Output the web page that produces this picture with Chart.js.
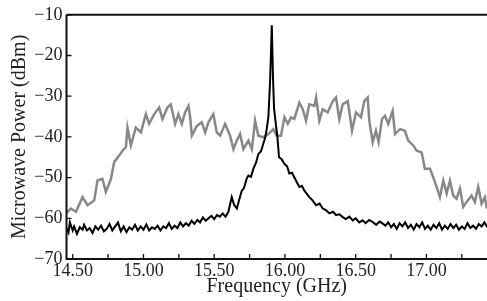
<!DOCTYPE html>
<html>
<head>
<meta charset="utf-8">
<script src="https://cdn.jsdelivr.net/npm/chart.js@4"></script>
<style>
  html, body { margin: 0; padding: 0; background: #fff; }
  #wrap { width: 487px; height: 301px; }
</style>
</head>
<body>
<div id="wrap"><canvas id="spectrum-chart"></canvas></div>
<script>
// broad (gray) spectrum
const grayFreq = [14.452, 14.487, 14.523, 14.569, 14.605, 14.652, 14.675, 14.710, 14.734, 14.770,
  14.793, 14.828, 14.852, 14.876, 14.887, 14.911, 14.946, 14.982, 15.017, 15.040,
  15.076, 15.111, 15.134, 15.169, 15.193, 15.224, 15.247, 15.271, 15.294, 15.318,
  15.330, 15.342, 15.377, 15.412, 15.436, 15.459, 15.494, 15.518, 15.542, 15.577,
  15.612, 15.636, 15.660, 15.683, 15.706, 15.742, 15.766, 15.789, 15.812, 15.847,
  15.883, 15.918, 15.942, 15.972, 15.996, 16.020, 16.043, 16.066, 16.102, 16.126,
  16.149, 16.172, 16.208, 16.220, 16.243, 16.267, 16.302, 16.338, 16.361, 16.384,
  16.408, 16.444, 16.474, 16.502, 16.537, 16.561, 16.585, 16.596, 16.620, 16.643,
  16.662, 16.686, 16.707, 16.730, 16.761, 16.778, 16.813, 16.848, 16.871, 16.907,
  16.931, 16.966, 16.989, 17.025, 17.048, 17.072, 17.095, 17.119, 17.143, 17.166,
  17.189, 17.213, 17.237, 17.260, 17.284, 17.319, 17.342, 17.366, 17.390, 17.413, 17.427];
const grayPower = [-58.8, -57.6, -58.4, -54.8, -56.8, -55.6, -50.7, -50.3, -53.5, -50.3,
  -46.2, -44.6, -43.4, -42.5, -37.7, -42.1, -37.7, -38.9, -34.4, -36.8,
  -34.4, -32.8, -35.6, -32.8, -32.0, -36.8, -34.4, -36.8, -34.0, -32.4,
  -35.2, -39.7, -37.3, -36.4, -38.9, -36.4, -34.4, -38.9, -39.7, -36.8,
  -39.7, -43.0, -40.9, -39.3, -43.0, -40.9, -43.0, -36.0, -39.7, -40.1,
  -39.3, -38.1, -39.7, -39.7, -35.2, -36.8, -35.2, -35.6, -31.6, -33.2,
  -36.0, -32.0, -32.4, -30.3, -36.0, -33.2, -34.0, -31.2, -30.3, -35.6,
  -32.0, -31.2, -38.5, -34.0, -35.2, -31.2, -30.3, -36.0, -41.3, -38.5,
  -41.3, -35.6, -34.8, -36.8, -33.6, -39.3, -38.1, -38.5, -40.9, -42.1,
  -43.4, -43.8, -47.8, -47.8, -49.9, -52.3, -54.8, -50.7, -53.9, -50.7,
  -54.4, -55.2, -52.7, -57.2, -56.0, -54.4, -56.0, -52.3, -56.4, -54.8, -57.6];

// narrow (black) peak
const blackFreq = [14.45, 14.47, 14.48, 14.50, 14.51, 14.53, 14.55, 14.57, 14.58, 14.60,
  14.62, 14.64, 14.66, 14.68, 14.70, 14.72, 14.74, 14.76, 14.78, 14.80,
  14.82, 14.84, 14.86, 14.88, 14.90, 14.92, 14.94, 14.96, 14.98, 15.00,
  15.02, 15.04, 15.06, 15.08, 15.10, 15.12, 15.14, 15.16, 15.18, 15.20,
  15.22, 15.24, 15.26, 15.28, 15.30, 15.32, 15.34, 15.36, 15.38, 15.40,
  15.42, 15.44, 15.46, 15.48, 15.50, 15.52, 15.54, 15.56, 15.58, 15.60,
  15.624, 15.64, 15.66, 15.68, 15.695, 15.71, 15.73, 15.742, 15.76, 15.777,
  15.795, 15.812, 15.83, 15.847, 15.86, 15.871, 15.883, 15.895, 15.907, 15.916,
  15.923, 15.936, 15.947, 15.958, 15.975, 15.996, 16.015, 16.031, 16.05, 16.066,
  16.085, 16.102, 16.12, 16.137, 16.155, 16.172, 16.195, 16.220, 16.245, 16.267,
  16.29, 16.314, 16.34, 16.361, 16.385, 16.408, 16.43, 16.455, 16.479, 16.50,
  16.525, 16.549, 16.57, 16.595, 16.620, 16.645, 16.67, 16.691, 16.71, 16.73,
  16.75, 16.77, 16.79, 16.81, 16.83, 16.85, 16.87, 16.89, 16.91, 16.93,
  16.95, 16.97, 16.99, 17.01, 17.03, 17.05, 17.07, 17.09, 17.11, 17.13,
  17.15, 17.17, 17.19, 17.21, 17.23, 17.25, 17.27, 17.29, 17.31, 17.33,
  17.35, 17.37, 17.39, 17.41, 17.43];
const blackPower = [-62.0, -63.5, -61.0, -63.0, -62.0, -63.8, -62.2, -62.8, -61.6, -63.0,
  -62.4, -63.6, -62.0, -62.8, -61.8, -63.2, -62.6, -61.4, -63.0, -62.0,
  -61.0, -63.2, -62.0, -63.4, -62.2, -62.8, -61.6, -63.0, -62.0, -62.8,
  -61.5, -63.0, -62.2, -62.6, -61.8, -63.0, -62.0, -62.4, -61.2, -62.6,
  -61.8, -62.4, -61.0, -62.0, -61.2, -61.8, -60.6, -61.4, -60.4, -61.0,
  -59.8, -60.6, -60.0, -59.4, -60.2, -59.2, -59.6, -58.8, -59.6, -58.4,
  -54.8, -56.6, -57.6, -55.0, -53.2, -52.6, -50.2, -49.5, -49.8, -47.8,
  -46.4, -44.2, -43.6, -41.7, -40.2, -38.1, -35.0, -26.3, -12.6, -26.0,
  -33.0, -37.0, -40.1, -45.0, -45.4, -46.6, -47.2, -49.0, -48.8, -49.9,
  -51.2, -52.3, -52.0, -53.2, -54.0, -54.8, -55.6, -56.8, -56.4, -57.6,
  -58.0, -58.8, -58.4, -59.2, -59.0, -59.7, -60.2, -59.6, -60.5, -60.0,
  -61.0, -60.5, -61.2, -60.4, -60.9, -61.6, -60.8, -61.3, -61.8, -61.0,
  -62.2, -61.4, -62.6, -61.2, -62.0, -61.0, -62.4, -61.6, -62.8, -61.4,
  -62.2, -61.0, -62.6, -61.8, -62.8, -61.6, -62.4, -61.2, -62.8, -61.8,
  -62.6, -61.4, -62.4, -61.6, -62.8, -62.0, -62.6, -61.2, -62.4, -61.8,
  -62.6, -61.4, -62.0, -61.0, -62.2];

const xTickValues = [14.5, 14.75, 15.0, 15.25, 15.5, 15.75, 16.0, 16.25, 16.5, 16.75, 17.0, 17.25];
const xTitle = 'Frequency (GHz)';
const yTitle = 'Microwave Power (dBm)';

const toPoints = (xs, ys) => xs.map((x, i) => ({ x: x, y: ys[i] }));
const serif = 'Liberation Serif';
const textColor = '#222';

// frame on top edge and inward ticks
const framePlugin = {
  id: 'frame',
  afterDraw(chart) {
    const ctx = chart.ctx;
    const a = chart.chartArea;
    const xs = chart.scales.x;
    const ys = chart.scales.y;
    ctx.save();
    ctx.strokeStyle = '#111';
    ctx.lineWidth = 2;
    ctx.beginPath();
    ctx.moveTo(a.left, a.top);
    ctx.lineTo(a.right, a.top);
    ctx.moveTo(a.left, a.top);
    ctx.lineTo(a.left, a.bottom);
    ctx.lineTo(a.right, a.bottom);
    ctx.stroke();
    ctx.lineWidth = 1.3;
    ctx.beginPath();
    xs.ticks.forEach(t => {
      const px = xs.getPixelForValue(t.value);
      ctx.moveTo(px, a.bottom);
      ctx.lineTo(px, a.bottom - 5);
    });
    ys.ticks.forEach(t => {
      const py = ys.getPixelForValue(t.value);
      ctx.moveTo(a.left, py);
      ctx.lineTo(a.left + 5, py);
    });
    ctx.stroke();
    ctx.restore();
  }
};

new Chart(document.getElementById('spectrum-chart'), {
  type: 'line',
  data: {
    datasets: [
      {
        data: toPoints(blackFreq, blackPower),
        borderColor: '#000',
        borderWidth: 2,
        pointRadius: 0,
        tension: 0
      },
      {
        data: toPoints(grayFreq, grayPower),
        borderColor: '#888',
        borderWidth: 2.5,
        pointRadius: 0,
        tension: 0
      }
    ]
  },
  options: {
    responsive: true,
    maintainAspectRatio: false,
    animation: false,
    layout: { padding: { top: 13, right: 0, left: 8, bottom: 2 } },
    plugins: {
      legend: { display: false },
      tooltip: { enabled: false }
    },
    scales: {
      x: {
        type: 'linear',
        min: 14.456,
        max: 17.428,
        afterBuildTicks: s => { s.ticks = xTickValues.map(v => ({ value: v })); },
        afterFit: s => { s.height = 40; },
        grid: { display: false, drawTicks: false, tickLength: 0 },
        border: { display: false },
        ticks: {
          autoSkip: false,
          maxRotation: 0,
          padding: 1,
          color: textColor,
          font: { family: serif, size: 18 },
          callback: v => (Math.abs(v * 2 - Math.round(v * 2)) < 1e-6 ? v.toFixed(2) : '')
        },
        title: {
          display: true,
          text: xTitle,
          color: textColor,
          font: { family: serif, size: 20 },
          padding: 0
        }
      },
      y: {
        min: -70,
        max: -10,
        afterFit: s => { s.width = 58.5; },
        grid: { display: false, drawTicks: false, tickLength: 0 },
        border: { display: false },
        ticks: {
          stepSize: 5,
          padding: 4,
          color: textColor,
          font: { family: serif, size: 18 },
          callback: v => (v % 10 === 0 ? '\u2212' + Math.abs(v) : '')
        },
        title: {
          display: true,
          text: yTitle,
          color: textColor,
          font: { family: serif, size: 20 },
          padding: 0
        }
      }
    }
  },
  plugins: [framePlugin]
});
</script>
</body>
</html>
